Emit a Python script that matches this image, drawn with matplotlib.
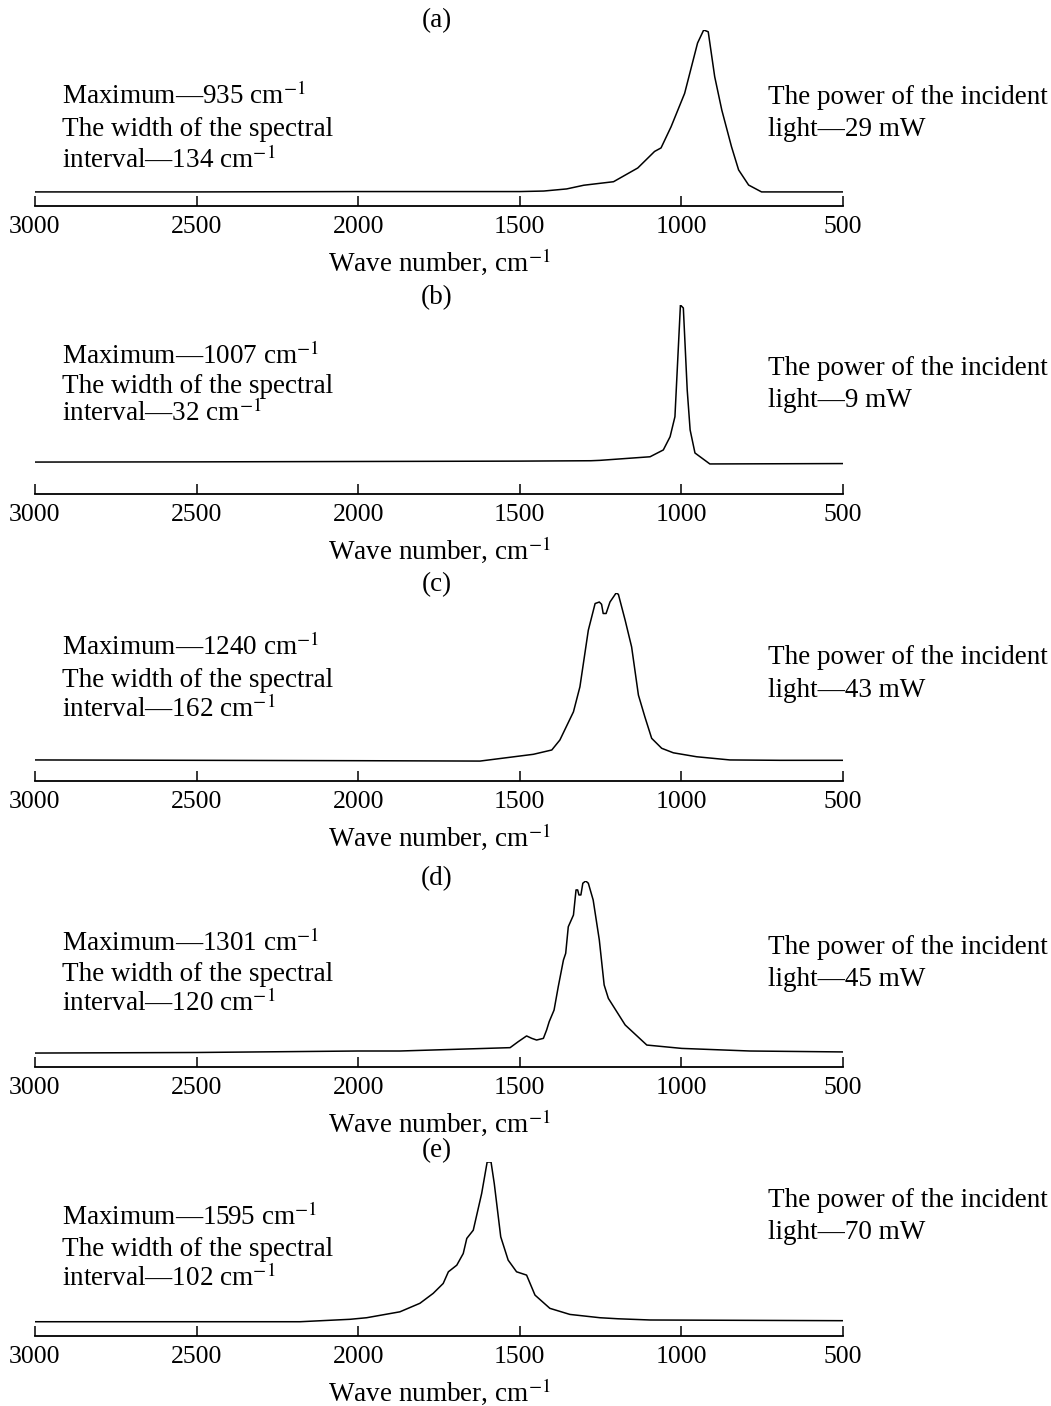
import matplotlib
matplotlib.use('Agg')
import matplotlib.pyplot as plt

plt.rcParams['font.family'] = ['Liberation Serif', 'DejaVu Serif']
plt.rcParams['mathtext.fontset'] = 'stix'

# spectra (wave number, relative intensity)
wn_a = [3000, 2500, 2000, 1500, 1426, 1355, 1302, 1210, 1135, 1083, 1063, 1032, 990, 950,
        931, 917, 897, 875, 845, 823, 792, 752, 500]
int_a = [0.080, 0.080, 0.082, 0.082, 0.085, 0.097, 0.118, 0.138, 0.216, 0.31, 0.33, 0.45, 0.64,
         0.926, 1.0, 0.99, 0.735, 0.545, 0.337, 0.205, 0.119, 0.080, 0.080]

wn_b = [3000, 2500, 2000, 1500, 1280, 1252, 1097, 1056, 1035, 1020, 1003, 994, 982, 973, 958,
        912, 500]
int_b = [0.169, 0.170, 0.172, 0.174, 0.176, 0.178, 0.197, 0.233, 0.303, 0.409, 1.0, 0.984,
         0.55, 0.339, 0.217, 0.159, 0.161]

wn_c = [3000, 2000, 1623, 1458, 1401, 1376, 1334, 1314, 1288, 1267, 1254, 1247, 1242, 1233,
        1221, 1202, 1195, 1174, 1154, 1133, 1113, 1092, 1061, 1025, 953, 850, 695, 500]
int_c = [0.112, 0.108, 0.106, 0.142, 0.165, 0.218, 0.368, 0.501, 0.802, 0.944, 0.952, 0.94,
         0.891, 0.891, 0.952, 1.0, 0.993, 0.855, 0.713, 0.457, 0.341, 0.227, 0.174, 0.150,
         0.129, 0.112, 0.110, 0.110]

wn_d = [3000, 2500, 2000, 1871, 1530, 1505, 1479, 1463, 1448, 1427, 1417, 1409, 1394, 1381,
        1365, 1358, 1350, 1334, 1326, 1321, 1317, 1311, 1305, 1296, 1288, 1273, 1254, 1239,
        1226, 1174, 1107, 999, 788, 500]
int_d = [0.075, 0.078, 0.086, 0.086, 0.104, 0.136, 0.167, 0.154, 0.145, 0.154, 0.199, 0.244,
         0.306, 0.432, 0.575, 0.611, 0.754, 0.817, 0.952, 0.952, 0.925, 0.925, 0.988, 1.0,
         0.988, 0.898, 0.683, 0.441, 0.369, 0.226, 0.118, 0.100, 0.086, 0.081]

wn_e = [3000, 2236, 2180, 2025, 1974, 1871, 1809, 1768, 1737, 1721, 1695, 1675, 1664, 1644,
        1618, 1601, 1589, 1579, 1559, 1536, 1510, 1479, 1453, 1407, 1345, 1252, 1196, 1097, 500]
int_e = [0.082, 0.082, 0.082, 0.096, 0.105, 0.139, 0.188, 0.245, 0.302, 0.369, 0.407, 0.474,
         0.561, 0.608, 0.819, 1.0, 1.0, 0.876, 0.57, 0.436, 0.369, 0.35, 0.235, 0.159, 0.124,
         0.105, 0.099, 0.092, 0.088]

panel_names = ['(a)', '(b)', '(c)', '(d)', '(e)']
maxima = [935, 1007, 1240, 1301, 1595]
widths = [134, 32, 162, 120, 102]
powers = [29, 9, 43, 45, 70]
wave_ticks = [3000, 2500, 2000, 1500, 1000, 500]

# layout in pixels of the original figure
W, H = 1051, 1406
axis_y = [206, 494, 781, 1067, 1336]
peak_y = [30, 305, 593, 881, 1162]
title_y = [21, 298, 585, 879, 1151]
left_y = [(104, 136, 168), (364, 393, 421), (655, 687, 717), (951, 981, 1011), (1225, 1256, 1286)]
right_y = [(104, 136), (375, 407), (664, 697), (954, 986), (1207, 1239)]

spectra = [(wn_a, int_a), (wn_b, int_b), (wn_c, int_c), (wn_d, int_d), (wn_e, int_e)]

fig = plt.figure(figsize=(W / 100, H / 100), dpi=100)
FS = 19.5
TICK_FS = 18.5

for i, (wn, inten) in enumerate(spectra):
    ax = fig.add_axes([35 / W, 1 - axis_y[i] / H, 808 / W, (axis_y[i] - peak_y[i]) / H])
    ax.plot(wn, inten, color='black', lw=1.1)
    ax.set_xlim(3000, 500)
    ax.set_ylim(0, 1)
    for s in ['top', 'left', 'right']:
        ax.spines[s].set_visible(False)
    ax.spines['bottom'].set_linewidth(1.3)
    ax.set_yticks([])
    ax.set_xticks(wave_ticks)
    ax.set_xticklabels([str(t) for t in wave_ticks])
    ax.tick_params(axis='x', direction='in', length=7, width=1.1, labelsize=TICK_FS, pad=7)
    ax.set_xlabel('Wave number, cm$^{-1}$', fontsize=FS, labelpad=6)
    ax.patch.set_alpha(0)

    fig.text(437 / W, 1 - title_y[i] / H, panel_names[i], ha='center', va='center', fontsize=FS)
    left = ['Maximum\u2014%d cm$^{-1}$' % maxima[i],
            'The width of the spectral',
            'interval\u2014%d cm$^{-1}$' % widths[i]]
    for t, yy in zip(left, left_y[i]):
        fig.text(62 / W, 1 - yy / H, t, ha='left', va='baseline', fontsize=FS)
    right = ['The power of the incident', 'light\u2014%d mW' % powers[i]]
    for t, yy in zip(right, right_y[i]):
        fig.text(768 / W, 1 - yy / H, t, ha='left', va='baseline', fontsize=FS)

fig.savefig('out.png', dpi=100)
